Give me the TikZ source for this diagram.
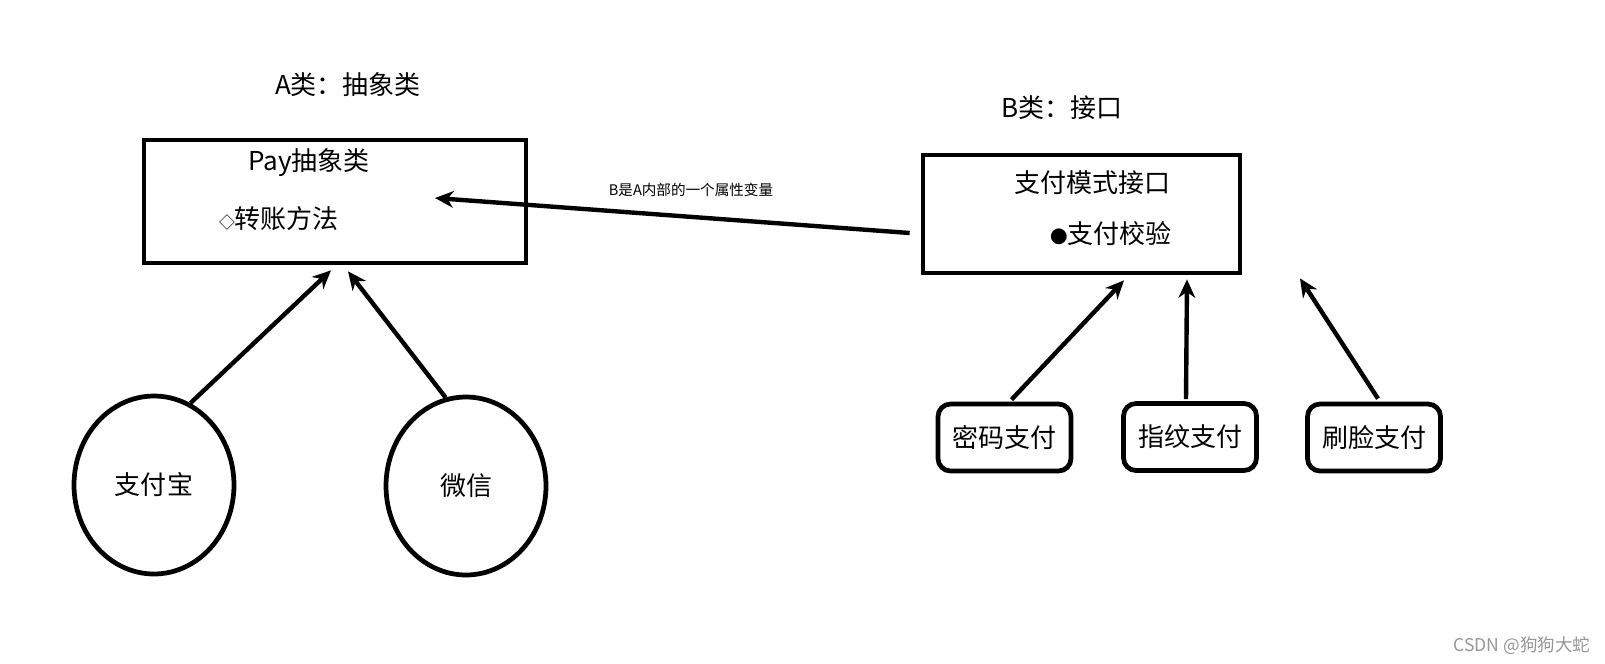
\documentclass[tikz,border=0pt]{standalone}
\usepackage{fontspec}
\setmainfont{Noto Sans CJK SC}
\usetikzlibrary{arrows.meta,shapes.geometric}
\definecolor{ink}{RGB}{0,0,0}
\definecolor{wmark}{RGB}{150,150,150}

\begin{document}
\begin{tikzpicture}[
  x=0.02cm,y=-0.02cm,
  >={Stealth[length=10.5pt,width=9.5pt]},
  txt/.style={inner sep=0pt,font=\fontsize{14.8}{17}\selectfont,text=ink},
  smalltxt/.style={inner sep=0pt,font=\fontsize{8.3}{10}\selectfont,text=ink},
  classbox/.style={draw=ink,line width=2.7pt,inner sep=0pt},
  impl/.style={ellipse,draw=ink,line width=2.7pt,minimum width=3.2cm,minimum height=3.56cm,inner sep=0pt,txt},
  way/.style={rectangle,rounded corners=0.25cm,draw=ink,line width=2.7pt,minimum width=2.66cm,minimum height=1.34cm,inner sep=0pt,txt},
  link/.style={->,draw=ink,line width=2.5pt}
]
\useasboundingbox (0,0) rectangle (1605,663);
% ================= left: abstract class =================
\node[txt] (titlea) at (348,85) {A类：抽象类};
\node[classbox,minimum width=7.64cm,minimum height=2.46cm] (paybox) at (335,201.5) {};
\node[txt] (payname) at (309,163) {Pay抽象类};
\node[txt] (paymethod) at (279,219) {{\fontsize{9}{10}\selectfont ◇}转账方法};
\node[impl] (alipay) at (154,485) {支付宝};
\node[impl] (wechat) at (466,486) {微信};
\draw[link] (alipay.66) -- ([shift={(-4,5)}]paybox.south);
\draw[link] (wechat.103) -- ([shift={(13,6)}]paybox.south);
% ================= right: interface =================
\node[txt] (titleb) at (1062,108) {B类：接口};
\node[classbox,minimum width=6.34cm,minimum height=2.36cm] (modebox) at (1081.5,214) {};
\node[txt] (modename) at (1092,183) {支付模式接口};
\node[txt] (modecheck) at (1111,234) {{\fontsize{10}{10}\selectfont ●}支付校验};
\node[way] (pwdpay) at (1004.5,437.5) {密码支付};
\node[way] (fingerpay) at (1190,437) {指纹支付};
\node[way] (facepay) at (1374,437.5) {刷脸支付};
\draw[link] ([shift={(7,-2)}]pwdpay.north) -- ([shift={(42.5,5)}]modebox.south);
\draw[link] ([shift={(-4,-2)}]fingerpay.north) -- ([shift={(105.5,4)}]modebox.south);
\draw[link] ([shift={(4,-3)}]facepay.north) -- ([shift={(218.5,3)}]modebox.south);
% ================= B held inside A =================
\draw[link] ([shift={(-11,19)}]modebox.west) -- ([shift={(100,-3.5)}]paybox.center);
\node[smalltxt] (relnote) at (691,190) {B是A内部的一个属性变量};
\node[inner sep=0pt,font=\fontsize{10}{12}\selectfont,text=wmark] (mark) at (1522,646) {CSDN @狗狗大蛇};
\end{tikzpicture}
\end{document}
